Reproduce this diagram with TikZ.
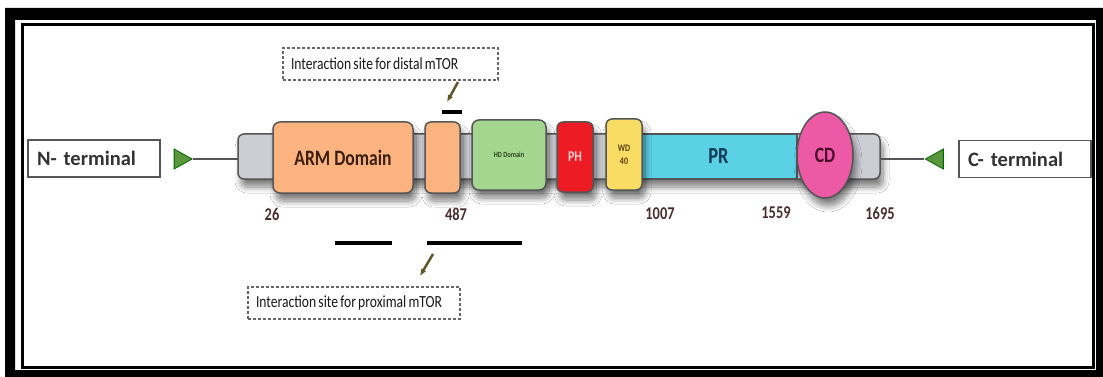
\documentclass[tikz,border=0pt]{standalone}
\usepackage{fontspec}
\setmainfont{Carlito}
\newfontfamily\narrowfont[FakeStretch=0.8]{Carlito}
\usetikzlibrary{shapes.geometric,arrows.meta,shadows.blur}

\definecolor{backbone}{RGB}{205,205,213}
\definecolor{armorange}{RGB}{251,180,128}
\definecolor{hdgreen}{RGB}{165,214,143}
\definecolor{phred}{RGB}{237,28,36}
\definecolor{wdyellow}{RGB}{248,220,99}
\definecolor{prcyan}{RGB}{91,209,230}
\definecolor{cdpink}{RGB}{236,90,165}
\definecolor{edgegray}{RGB}{85,85,85}
\definecolor{tipgreen}{RGB}{90,150,60}
\definecolor{arrowolive}{RGB}{95,88,40}
\definecolor{numbrown}{RGB}{74,44,44}

\tikzset{
  protbox/.style={draw=edgegray, line width=1.5pt, inner sep=0pt, outer sep=0pt, rounded corners=7pt},
  shadowed/.style={blur shadow={shadow xshift=3pt, shadow yshift=-8pt, shadow opacity=50, shadow blur radius=6pt, shadow blur steps=10}},
  domlabel/.style={font=\narrowfont\bfseries\fontsize{#1}{#1}\selectfont},
  termbox/.style={draw=edgegray, line width=1.5pt, minimum height=37pt, text width=114pt, inner xsep=9pt, inner ysep=0pt, align=left, font=\bfseries\fontsize{20.5}{24}\selectfont, text=black!80},
  sitebox/.style={draw=black!60, dash pattern=on 3pt off 2pt, line width=1.5pt, minimum height=32pt, inner xsep=8pt, inner ysep=0pt, align=left, font=\narrowfont\fontsize{17}{20}\selectfont, text=black!90,
    execute at begin node={\spaceskip=2.2pt plus 1pt\relax}},
  endtip/.style={isosceles triangle, isosceles triangle stretches, draw=black!60!green, fill=tipgreen, line width=0.8pt, minimum width=20pt, minimum height=18pt, inner sep=0pt},
  resnum/.style={font=\narrowfont\bfseries\fontsize{18}{20}\selectfont, text=numbrown},
  sitearrow/.style={draw=arrowolive, line width=2.5pt, -{Latex[length=7pt,width=6pt]}},
  sitebar/.style={line width=4pt, black}
}

\begin{document}
\begin{tikzpicture}[x=1pt, y=-1pt]
\fill[white] (0,0) rectangle (1103,377);
\fill[black, even odd rule] (5,8) rectangle (1103,377) (15,20) rectangle (1096,370);
\draw[line width=3pt] (22.5,24.5) rectangle (1093,367.5);

\node[protbox, shadowed, fill=backbone, minimum width=642pt, minimum height=45pt, rounded corners=6pt] (chain) at (559,156.5) {};
\node[protbox, shadowed, fill=armorange, minimum width=140pt, minimum height=71pt, domlabel=22, text={rgb,255:red,59;green,31;blue,14}] (arm) at (343,157.5) {ARM Domain};
\node[protbox, shadowed, fill=armorange, minimum width=35pt, minimum height=71pt, rounded corners=6pt] (armb) at (442.5,157.5) {};
\node[protbox, shadowed, fill=hdgreen, minimum width=74pt, minimum height=70pt, domlabel=8, text={rgb,255:red,40;green,70;blue,25}] (hd) at (509,155) {HD Domain};
\node[protbox, shadowed, fill=phred, minimum width=36pt, minimum height=70pt, rounded corners=6pt, domlabel=15, text={rgb,255:red,255;green,205;blue,205}] (ph) at (575,157) {PH};
\node[protbox, fill=prcyan, rounded corners=0pt, minimum width=157pt, minimum height=45pt, domlabel=23, text={rgb,255:red,13;green,59;blue,85}] (pr) at (718.5,156.5) {PR};
\node[protbox, shadowed, fill=wdyellow, minimum width=36pt, minimum height=71pt, rounded corners=6pt, align=center, domlabel=10, text={rgb,255:red,90;green,64;blue,16}] (wd) at (624,154.5) {WD\\[3pt]40};
\node[protbox, shadowed, ellipse, fill=cdpink, rounded corners=0pt, minimum width=56pt, minimum height=86pt, domlabel=22, text={rgb,255:red,74;green,10;blue,42}] (cd) at (825,155) {CD};

\node[endtip] (ntip) at (180,159) {};
\node[endtip, shape border rotate=180] (ctip) at (937.5,159) {};
\draw[edgegray, line width=1.5pt] (ntip.apex) -- (ntip.apex -| chain.west);
\draw[edgegray, line width=1.5pt] (chain.east |- ctip.apex) -- (ctip.apex);
\node[termbox] (nterm) at (94,158.5) {N- terminal};
\node[termbox] (cterm) at (1025,159) {C- terminal};

\node[resnum] (r26) at (272,214) {26};
\node[resnum] (r487) at (456,214) {487};
\node[resnum] (r1007) at (660,214) {1007};
\node[resnum] (r1559) at (776,213) {1559};
\node[resnum] (r1695) at (880,213) {1695};

\node[sitebox, text width=199pt] (distal) at (390.5,64) {Interaction site for distal mTOR};
\node[sitebox, text width=196pt] (proximal) at (354,303) {Interaction site for proximal mTOR};

\draw[sitebar, line width=3.5pt] (442,112) -- (462,112);
\draw[sitebar] (335,243) -- (392,243);
\draw[sitebar] (427,243) -- (522,243);

\coordinate (dfrom) at (458,82);
\coordinate (dto) at (447,102);
\coordinate (pfrom) at (433,254);
\coordinate (pto) at (420,276);
\draw[sitearrow] (dfrom) -- (dto);
\draw[sitearrow] (pfrom) -- (pto);
\end{tikzpicture}
\end{document}
